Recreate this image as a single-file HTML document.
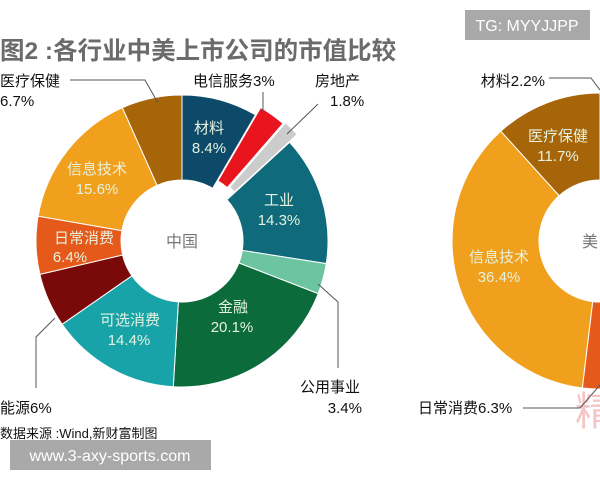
<!DOCTYPE html>
<html><head><meta charset="utf-8">
<style>
html,body{margin:0;padding:0;background:#fff;width:600px;height:480px;overflow:hidden}
svg{display:block}
text{font-family:"Liberation Sans","Noto Sans CJK SC",sans-serif}
</style></head>
<body>
<svg id="s" width="600" height="480" xmlns="http://www.w3.org/2000/svg">
<g id="g"></g>
<text x="0" y="59" font-size="24.5" font-weight="bold" fill="#6b6b6b">图2 :各行业中美上市公司的市值比较</text>
<g fill="#e6f2e0" font-size="15" text-anchor="middle">
<text x="209" y="133">材料</text><text x="209" y="153">8.4%</text>
<text x="279" y="205">工业</text><text x="279" y="225">14.3%</text>
<text x="233" y="312">金融</text><text x="232" y="332">20.1%</text>
<text x="130" y="325">可选消费</text><text x="129" y="345">14.4%</text>
<text x="84" y="243">日常消费</text><text x="70" y="262">6.4%</text>
<text x="97" y="174">信息技术</text><text x="97" y="194">15.6%</text>
<text x="558" y="141">医疗保健</text><text x="558" y="161">11.7%</text>
<text x="499" y="262">信息技术</text><text x="499" y="282">36.4%</text>
</g>
<text x="182" y="247" font-size="16" fill="#777" text-anchor="middle">中国</text>
<text x="582" y="247" font-size="16" fill="#777">美</text>
<g font-size="15" fill="#111">
<text x="0" y="86">医疗保健</text><text x="0" y="106">6.7%</text>
<text x="193" y="86">电信服务3%</text>
<text x="315" y="86">房地产</text><text x="330" y="106">1.8%</text>
<text x="300" y="392">公用事业</text><text x="362" y="413" text-anchor="end">3.4%</text>
<text x="0" y="413">能源6%</text>
<text x="545" y="86" text-anchor="end">材料2.2%</text>
<text x="418" y="413">日常消费6.3%</text>
</g>
<text x="0" y="438" font-size="13" fill="#111">数据来源 :Wind,新财富制图</text>
<g fill="none" stroke="#555" stroke-width="1">
<polyline points="70,80 145,80 158,103"/>
<polyline points="263,92 263,112"/>
<polyline points="318,104 287,134"/>
<polyline points="318,284 338,302 338,368"/>
<polyline points="55,318 36,337 36,388"/>
<polyline points="549,78 591,78 600,90"/>
<polyline points="523,408 580,408 600,385"/>
</g>
<rect x="465" y="10" width="125" height="30" fill="#a9a9a9"/>
<text x="527" y="31" font-size="16" fill="#fff" text-anchor="middle">TG: MYYJJPP</text>
<rect x="10" y="440" width="201" height="30" fill="#a9a9a9"/>
<text x="110" y="461" font-size="16" fill="#fff" text-anchor="middle">www.3-axy-sports.com</text>
</svg>
<script>
function arc(cx,cy,r0,r1,a0,a1,off){
 var am=(a0+a1)/2,ox=0,oy=0;
 if(off){ox=off*Math.sin(am);oy=-off*Math.cos(am);}
 cx+=ox;cy+=oy;
 function p(r,a){return (cx+r*Math.sin(a)).toFixed(2)+","+(cy-r*Math.cos(a)).toFixed(2);}
 var lg=(a1-a0)>Math.PI?1:0;
 return "M"+p(r1,a0)+"A"+r1+","+r1+" 0 "+lg+" 1 "+p(r1,a1)+"L"+p(r0,a1)+"A"+r0+","+r0+" 0 "+lg+" 0 "+p(r0,a0)+"Z";
}
var g=document.getElementById("g"),h="";
var cn=[[8.4,"#0d4a6a"],[3,"#e8141e",9],[1.8,"#cccccc",11],[14.3,"#0f6a7c"],[3.4,"#6cc5a0"],[20.1,"#0b6b3a"],[14.4,"#17a3a8"],[6,"#7a0a0a"],[6.4,"#e55a1a"],[15.6,"#f0a01c"],[6.7,"#a66508"]];
var a=0,T=100.1;
cn.forEach(function(s){var b=a+s[0]/T*2*Math.PI;h+='<path d="'+arc(182,241,61,146,a,b,s[2]||0)+'" fill="'+s[1]+'" stroke="#fff" stroke-width="1"/>';a=b;});
var us=[[11.7,"#a66508"],[36.4,"#f0a01c"],[6.3,"#e55a1a"]];
a=0;
us.forEach(function(s){var b=a-s[0]/100*2*Math.PI;h+='<path d="'+arc(600,241,61,148,b,a,0)+'" fill="'+s[1]+'" stroke="#fff" stroke-width="1"/>';a=b;});
h+='<text x="575" y="425" font-size="40" fill="#f3c6c6" font-family="Noto Serif CJK SC,serif">精</text>';
g.innerHTML=h;
</script>
</body></html>
